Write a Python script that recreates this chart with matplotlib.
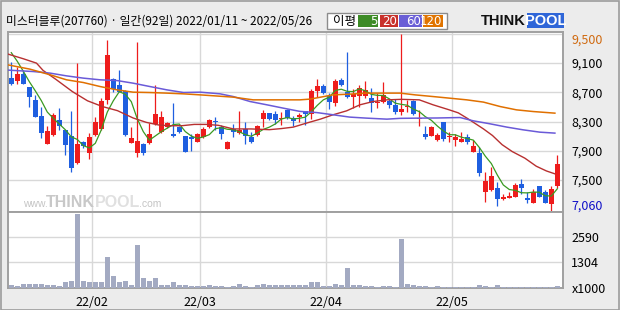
import numpy as np
import pandas as pd
import matplotlib
matplotlib.use('Agg')
import matplotlib.pyplot as plt
from matplotlib.patches import Rectangle

plt.rcParams['font.family'] = ['Noto Sans CJK KR', 'DejaVu Sans']

# 92 trading days, 2022/01/11 ~ 2022/05/26
opens = [8895, 8862, 8950, 8776, 8600, 8379, 7992, 8124, 8325, 8188,
         8106, 7732, 8024, 7877, 8119, 8206, 8600, 8884, 8803, 8725,
         8014, 7869, 7996, 8014, 8274, 8165, 8225, 8133, 8220, 8106,
         8087, 8028, 8087, 8220, 8315, 8220, 7928, 8197, 8143, 8197,
         8096, 8119, 8338, 8415, 8402, 8338, 8461, 8356, 8362, 8448,
         8402, 8721, 8790, 8657, 8553, 8872, 8712, 8643, 8657, 8657,
         8630, 8553, 8575, 8584, 8530, 8438, 8498, 8584, 8334, 8133,
         8110, 8042, 8297, 8087, 8042, 8028, 8087, 7891, 7877, 7344,
         7367, 7399, 7244, 7258, 7276, 7449, 7262, 7194, 7413, 7344,
         7180, 7426]
highs = [9120, 9045, 9010, 8780, 8660, 8506, 8245, 8420, 8485, 8190,
         8448, 9108, 8040, 8151, 8362, 8621, 9420, 8900, 9005, 8730,
         8225, 9395, 8010, 8280, 8803, 8452, 8300, 8553, 8240, 8110,
         8133, 8150, 8230, 8340, 8362, 8256, 8030, 8270, 8452, 8301,
         8160, 8260, 8461, 8420, 8440, 8430, 8470, 8380, 8416, 8450,
         8745, 8885, 8820, 8698, 8885, 8900, 9250, 8745, 8803, 8862,
         8758, 8690, 8840, 8610, 8612, 9500, 8598, 8600, 8461, 8243,
         8240, 8140, 8300, 8160, 8129, 8156, 8129, 8050, 7950, 7618,
         7678, 7473, 7310, 7340, 7460, 7518, 7340, 7380, 7420, 7360,
         7422, 7846]
lows = [8795, 8813, 8815, 8506, 8360, 8083, 7990, 8110, 8190, 7850,
        7618, 7723, 7940, 7795, 8110, 8190, 8540, 8700, 8700, 8100,
        8010, 7823, 7850, 8000, 8260, 8150, 8210, 8096, 8150, 7880,
        7900, 8020, 8080, 8210, 8188, 8060, 7920, 8088, 8130, 7996,
        8010, 8110, 8225, 8320, 8270, 8250, 8340, 8243, 8290, 8256,
        8334, 8643, 8680, 8475, 8516, 8790, 8630, 8485, 8506, 8621,
        8438, 8490, 8553, 8490, 8400, 8393, 8438, 8395, 8247, 8065,
        8100, 8030, 8035, 8020, 7970, 8020, 7990, 7880, 7550, 7207,
        7350, 7153, 7230, 7250, 7270, 7312, 7190, 7190, 7265, 7190,
        7060, 7390]
closes = [8817, 8958, 8821, 8639, 8370, 8151, 8174, 8393, 8247, 7982,
          7664, 7996, 7973, 8087, 8297, 8584, 9213, 8744, 8712, 8119,
          8078, 8037, 7869, 8129, 8407, 8370, 8284, 8110, 8165, 7891,
          8065, 8129, 8201, 8325, 8300, 8133, 8020, 8165, 8188, 8106,
          8020, 8243, 8415, 8338, 8325, 8356, 8348, 8315, 8385, 8402,
          8721, 8790, 8690, 8575, 8858, 8803, 8643, 8676, 8758, 8735,
          8553, 8575, 8666, 8530, 8438, 8471, 8516, 8402, 8356, 8096,
          8225, 8124, 8065, 8096, 8092, 8061, 8028, 7960, 7596, 7494,
          7559, 7244, 7276, 7285, 7436, 7399, 7230, 7336, 7272, 7194,
          7381, 7723]
# closes just before the window (for the 5-day average)
closes_before = [9550, 9500, 9350, 9000]

volumes = [171, 119, 207, 223, 187, 223, 171, 171, 119, 290,
           342, 3798, 378, 290, 290, 290, 1570, 637, 290, 378,
           171, 2192, 497, 342, 534, 171, 171, 311, 137, 171,
           119, 119, 119, 171, 119, 119, 69, 119, 223, 119,
           69, 136, 223, 136, 136, 136, 136, 136, 136, 136,
           325, 311, 119, 119, 223, 171, 1000, 171, 171, 119,
           119, 69, 119, 119, 69, 2503, 223, 171, 119, 119,
           69, 119, 69, 69, 69, 69, 69, 69, 171, 119,
           69, 171, 69, 69, 69, 69, 69, 69, 69, 69,
           69, 119]

ma20_x = [-0.6, 2, 4.2, 5.3, 7.4, 10.2, 12.7, 15.2, 17.7, 20.3, 22.5, 24.5, 26.5,
          28.5, 30.5, 32.5, 34.5, 37, 40, 43, 45, 47, 49.2, 51.5, 53.6, 55.9,
          58.1, 60.3, 62.6, 65, 68, 70.3, 73, 74.5, 76, 78.7, 80.2, 81.8, 83.5,
          85.6, 87.5, 89.2, 90.6]
ma20_y = [9225, 9160, 9100, 9000, 8880, 8710, 8585, 8506, 8450, 8350, 8290, 8255, 8243,
          8245, 8262, 8262, 8250, 8200, 8200, 8190, 8205, 8225, 8280, 8334, 8393, 8448,
          8530, 8575, 8598, 8605, 8598, 8530, 8461, 8420, 8345, 8200, 8110, 7985, 7890,
          7800, 7690, 7625, 7586]
ma60_x = [-0.6, 3.7, 6.5, 9.2, 12, 14.8, 17.6, 20.3, 23.1, 25.9, 28.7, 31.5, 34.8,
          37, 39.8, 42.6, 45.3, 48.1, 50.9, 53.7, 56.4, 59.2, 62.6, 64.8, 68, 71,
          74.8, 77, 79.8, 82.6, 85.3, 88.1, 90.6]
ma60_y = [9005, 8985, 8963, 8926, 8895, 8872, 8862, 8826, 8780, 8735, 8698, 8703, 8680,
          8643, 8575, 8530, 8485, 8440, 8424, 8393, 8362, 8348, 8334, 8345, 8348, 8350,
          8356, 8311, 8270, 8225, 8188, 8156, 8143]
ma120_x = [-0.6, 3.1, 6.5, 9.2, 12, 14.8, 17.6, 20.3, 23.1, 25.9, 28.7, 31.5, 37,
           40.3, 48.1, 49.8, 53.6, 56.4, 59.2, 64.8, 67.3, 70.3, 75.9, 78.7, 81.5,
           84.2, 87, 90.6]
ma120_y = [9077, 9018, 8940, 8872, 8835, 8780, 8735, 8703, 8698, 8690, 8680, 8666, 8635,
           8598, 8598, 8608, 8666, 8676, 8690, 8690, 8666, 8643, 8598, 8567, 8506,
           8461, 8438, 8416]

month_pos = [13.5, 31.5, 52.5, 73.5]
month_labels = ['22/02', '22/03', '22/04', '22/05']
price_ticks = [7060, 7500, 7900, 8300, 8700, 9100, 9500]
vol_ticks = [0, 1304, 2590]

W, H = 620, 310
UP, DOWN = '#ee1c1c', '#1f5fe0'
GRID = '#d8d8d8'
FRAME = '#a0a0a0'
LOGO_FONT = ['Liberation Sans', 'DejaVu Sans']


def fx(px):
    return px / W


def fy(py):
    return 1 - py / H


fig = plt.figure(figsize=(6.2, 3.1), dpi=100, facecolor='#ececec')
fig.patches.append(Rectangle((0.5 / W, 0.5 / H), 1 - 1.5 / W, 1 - 1.5 / H, transform=fig.transFigure,
                             fill=False, edgecolor='#9c9c9c', lw=1.2))

ax = fig.add_axes([fx(8), fy(212.3), fx(555), (212.3 - 31.7) / H])
axv = fig.add_axes([fx(8), fy(288), fx(555), (288 - 212.3) / H])

idx = np.arange(len(closes))
o = np.array(opens)
c = np.array(closes)
up = c >= o
body_lo = np.minimum(o, c)
body_h = np.maximum(np.abs(c - o), 14)
colors = np.where(up, UP, DOWN)

# price panel
ax.vlines(idx, lows, highs, colors=colors, lw=0.9, zorder=3)
ax.bar(idx, body_h, bottom=body_lo, width=0.82, color=colors, lw=0, zorder=4)

ma5 = pd.Series(closes_before + closes).rolling(5).mean().to_numpy()[len(closes_before):]
ax.plot(idx, ma5, color='#3a9a22', lw=0.9, zorder=5)
ax.plot(ma20_x, ma20_y, color='#b83030', lw=1.0, zorder=5)
ax.plot(ma60_x, ma60_y, color='#6a5ad8', lw=1.1, zorder=5)
ax.plot(ma120_x, ma120_y, color='#e07000', lw=1.1, zorder=5)

ax.set_xlim(-0.55, 91.95)
ax.set_ylim(7060, 9530)
ax.set_xticks(month_pos)
ax.set_xticklabels([])
ax.yaxis.tick_right()
ax.set_yticks(price_ticks)
ax.set_yticklabels(['{:,}'.format(v) for v in price_ticks], fontsize=9)
ax.tick_params(axis='both', length=0, pad=6)
ylabs = ax.get_yticklabels()
ylabs[0].set_color('#1010c8')
ylabs[0].set_va('bottom')
ylabs[-1].set_color('#d06a10')
ylabs[-1].set_va('top')
ax.grid(True, color=GRID, lw=1.0)
ax.set_axisbelow(True)

# volume panel
axv.bar(idx, volumes, width=0.78, color='#a3aac2', lw=0, zorder=3)
axv.set_xlim(-0.55, 91.95)
axv.set_ylim(0, 3866)
axv.set_xticks(month_pos)
axv.set_xticklabels(month_labels, fontsize=9)
axv.yaxis.tick_right()
axv.set_yticks(vol_ticks)
axv.set_yticklabels(['x1000', '1304', '2590'], fontsize=9)
axv.tick_params(axis='both', length=0, pad=6)
axv.grid(True, color=GRID, lw=1.0)
axv.set_axisbelow(True)

for a in (ax, axv):
    a.set_facecolor('white')
    for s in a.spines.values():
        s.set_color(FRAME)
        s.set_linewidth(1.4)

# title
fig.text(fx(6), fy(21.5), '미스터블루(207760) · 일간(92일) 2022/01/11 ~ 2022/05/26',
         fontsize=8.5, va='center', ha='left')

# moving-average legend
fig.patches.append(Rectangle((fx(327.3), fy(29.3)), fx(120), 16.6 / H, transform=fig.transFigure,
                             facecolor='white', edgecolor='#8c8c8c', lw=1.0))
fig.text(fx(333), fy(21.5), '이평', fontsize=9, va='center', ha='left')
leg_items = [('5', '#3d8b26', 358.3, 378.3), ('20', '#c8312b', 380, 398.3),
             ('60', '#6a5fd6', 399.3, 421.7), ('120', '#e07400', 423.3, 443.3)]
for lab, col, x0, x1 in leg_items:
    fig.patches.append(Rectangle((fx(x0), fy(26.7)), fx(x1 - x0), 11.4 / H,
                                 transform=fig.transFigure, facecolor=col, lw=0))
    fig.text(fx(x1 - 1), fy(21.3), lab, fontsize=8.5, color='white', va='center', ha='right',
             family='DejaVu Sans')

# logo
fig.text(fx(481), fy(21.3), 'THINK', fontsize=10.5, fontweight='bold', family=LOGO_FONT,
         va='center', ha='left', color='#111111')
fig.patches.append(Rectangle((fx(526.7), fy(28.3)), fx(37.5), 15 / H, transform=fig.transFigure,
                             facecolor='#2f66d8', lw=0))
fig.text(fx(545.5), fy(21.3), 'POOL', fontsize=10.5, fontweight='bold', family=LOGO_FONT,
         va='center', ha='center', color='white')

# watermark
fig.text(fx(23), fy(207), 'www.', fontsize=7.5, color='#c4c4c4', va='baseline', family=LOGO_FONT)
fig.text(fx(46), fy(207), 'THINK', fontsize=11.5, fontweight='bold', color='#c8c8c8', va='baseline',
         family=LOGO_FONT)
fig.text(fx(95), fy(207), 'POOL', fontsize=11.5, fontweight='bold', color='#e0e0e0', va='baseline',
         family=LOGO_FONT)
fig.text(fx(139), fy(207), '.com', fontsize=7.5, color='#c4c4c4', va='baseline', family=LOGO_FONT)

fig.savefig('out.png', dpi=100, facecolor=fig.get_facecolor())
